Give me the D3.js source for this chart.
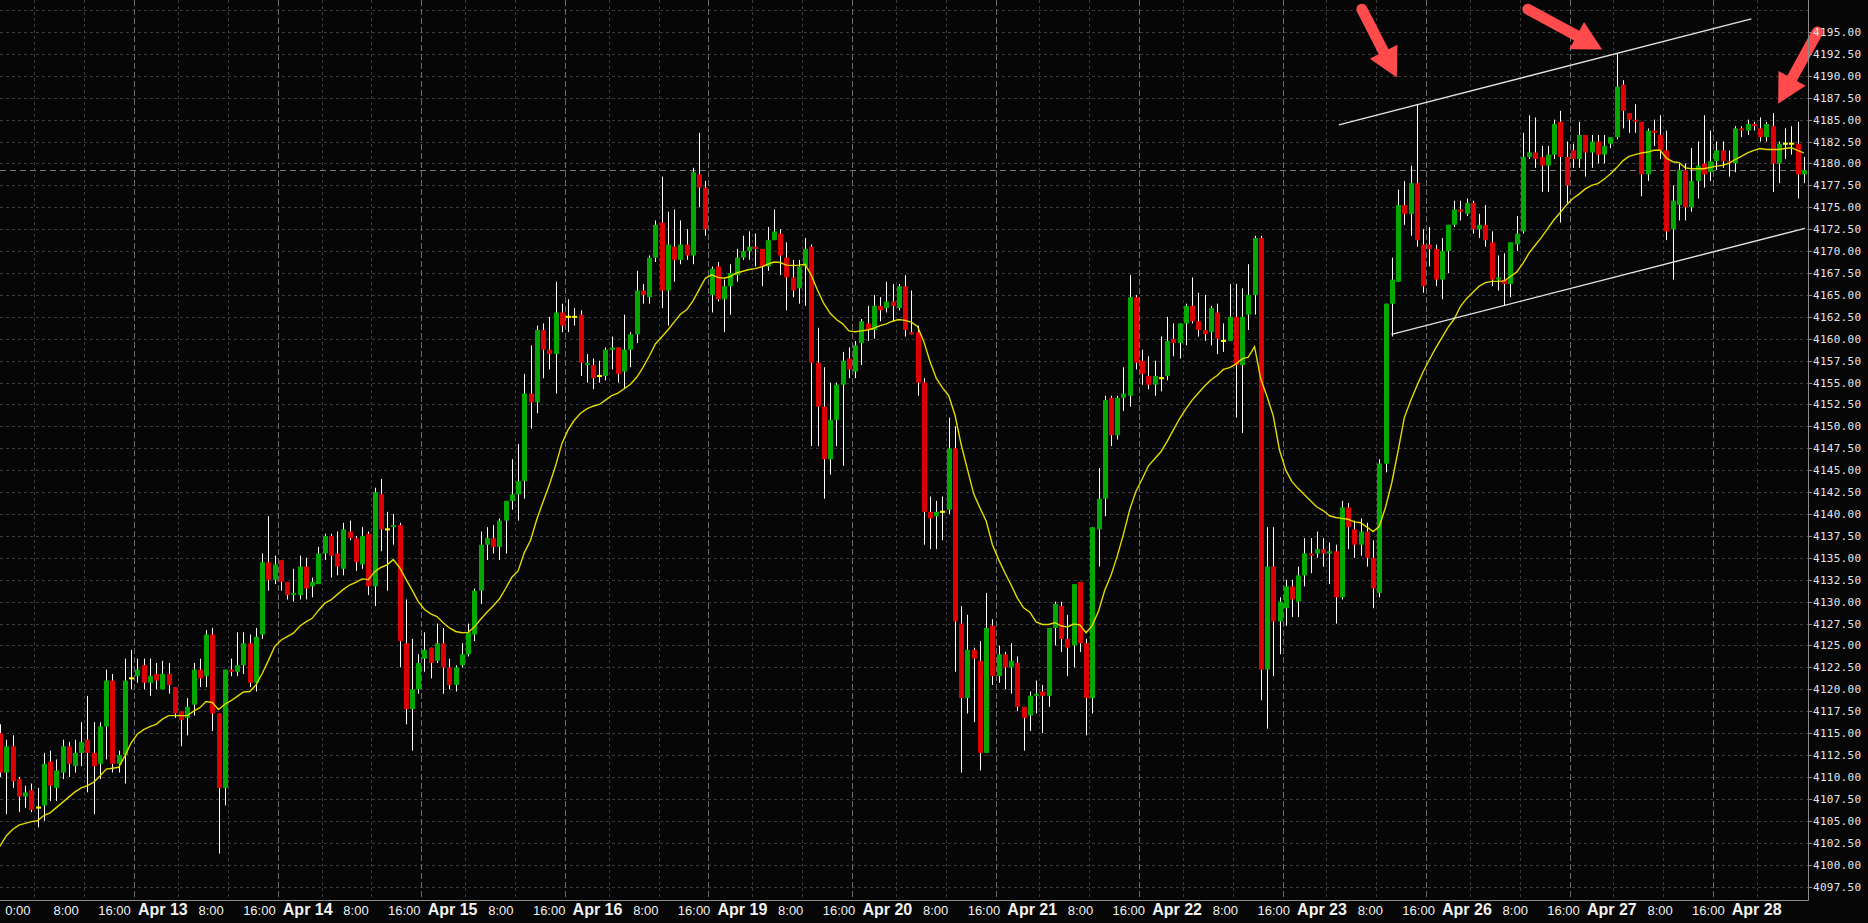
<!DOCTYPE html>
<html><head><meta charset="utf-8">
<script src="https://cdn.jsdelivr.net/npm/d3@7"></script>
<style>html,body{margin:0;padding:0;background:#060606;overflow:hidden}svg{display:block}</style>
</head><body>
<svg id="chart" width="1868" height="923"></svg>
<script>
// ---------- DATA (hourly candles, index 0..289) ----------
const open = [
4115,4110.5,4113.5,4109.75,4107.75,4108.5,4106.5,4106.75,4111.75,4108.75,
4110.5,4113.5,4111.25,4112.75,4114.25,4112.75,4111.5,4115.75,4121,4111.5,
4112.5,4121.25,4121.5,4122.75,4120.75,4121.75,4120,4121.75,4120.25,4117.5,
4116.75,4118.25,4122.25,4121.5,4126.25,4117.25,4108.75,4122.25,4122,4122.75,
4125.25,4120.75,4126.25,4134.5,4132.5,4134.75,4132.25,4130.75,4130.75,4134,
4131.75,4132,4135.5,4137.5,4135.5,4133.75,4138,4137.25,4134.25,4137.75,
4131.75,4142.25,4138.25,4138.5,4138.75,4125.25,4117.75,4120,4123.5,4124.75,
4123.25,4125.25,4122.5,4120.5,4122.75,4124,4126.25,4131.25,4136.5,4137.25,
4136.25,4139.25,4141.5,4142.25,4143.75,4153.75,4152.75,4161,4158.75,4158.25,
4163,4162.5,4162.5,4162.75,4157,4157,4155.75,4155.75,4158.75,4159,
4156.25,4158.75,4160.5,4165.5,4164.75,4169.25,4173.25,4165.5,4170.5,4169,
4170.75,4169.5,4178.75,4177.25,4165,4168.25,4164.5,4166,4167.25,4169.25,
4170,4170.5,4170.25,4168.25,4171.25,4172,4169.25,4167,4165.75,4168.25,
4170.5,4157.25,4152.25,4146.25,4150.75,4154.75,4157.75,4156.25,4159.5,4161.75,
4161,4163.75,4163.5,4164.25,4163.5,4166,4160.75,4160.75,4155,4140.25,
4139.75,4140.25,4140.5,4147.5,4127.5,4119,4124.5,4123.25,4112.75,4127.25,
4121.5,4124,4122.5,4123,4118,4117,4119.25,4119.75,4119.25,4127,
4129.5,4125.75,4125,4132.25,4125.25,4119,4138.25,4141.75,4153.25,4149,
4153.25,4153.5,4164.75,4157.5,4155.75,4154.75,4155.5,4155.75,4160,4159.5,
4161.75,4163.75,4162,4161,4160.75,4163,4159.75,4159.75,4162.5,4157,
4162.75,4165,4171.5,4122.25,4134,4127.75,4129.25,4131.75,4130,4133,
4135.5,4135.5,4136,4135.5,4135.75,4130.5,4140.75,4138.25,4136.5,4138,
4135,4131,4145.75,4164,4166.5,4175.25,4174.25,4177.75,4170.75,4170.75,
4170.25,4166.75,4170,4173,4174.75,4174.25,4175.5,4172.5,4173,4171,
4166.75,4166.75,4166.25,4170.75,4172.25,4180.75,4181.25,4180.75,4179.75,4181,
4184.75,4180.75,4181.5,4180.5,4183.25,4181.25,4182.5,4181,4182.25,4183,
4189,4185.75,4185,4184.75,4178.75,4183.75,4183.25,4181.5,4172.5,4175.25,
4179.25,4175,4178,4180,4179,4180.25,4181.5,4180.25,4180,4184,
4183.75,4184.5,4184,4183,4184.25,4180,4182.25,4182.25,4182.25,4178.75];
const high = [
4116,4114.25,4114.75,4110,4109,4109.25,4108.75,4112.75,4113,4112,
4114.25,4114,4114.25,4116.25,4119.25,4116.25,4116.25,4122.25,4121.75,4113,
4123.5,4124.5,4123.5,4123.5,4123.5,4123,4123.25,4123,4120.25,4117.5,
4119,4123,4123.5,4126.75,4127,4117.25,4122.25,4123.5,4126.5,4126.5,
4126.25,4127,4135.5,4139.75,4135.25,4134.75,4132.25,4133.75,4135.25,4135,
4132.75,4136.25,4137.75,4137.75,4138,4139,4139.25,4137.5,4138.5,4138,
4143,4144,4140.25,4140,4139,4130.25,4125.75,4124,4126.5,4124.75,
4127.5,4127,4123.5,4122.75,4125.25,4127.5,4131.5,4138,4138.5,4138.75,
4139.5,4141.5,4146.25,4148,4156,4159.25,4161.5,4161.75,4162.5,4166.5,
4164,4164.5,4163.5,4163.25,4158.25,4157.75,4157.5,4159,4160.25,4159,
4162.75,4160.75,4167.75,4166.25,4169.5,4173.5,4178.5,4174.5,4174.75,4173.5,
4172.5,4179.5,4183.5,4178,4168.25,4168.75,4166.75,4168.5,4170.25,4171.75,
4172.25,4172,4170.25,4172.75,4174.75,4172.5,4171,4169,4169,4171.5,
4170.75,4161.25,4156.75,4155,4155,4158.5,4159,4159.75,4162.25,4163.75,
4165,4164.75,4166.5,4166.25,4166.25,4167.25,4165.5,4161.5,4155.5,4142,
4141.5,4142,4151,4150,4129.5,4128.5,4124.75,4125.5,4131,4128,
4125,4124.25,4125.25,4123.75,4118,4119.75,4121,4120.5,4127,4130,
4130,4128.5,4132,4132.25,4125.75,4138.5,4145.25,4153.5,4153.5,4153.5,
4156.75,4167.25,4165,4158.75,4158,4157.5,4160.25,4162.5,4161.75,4161.75,
4164,4167,4165.25,4165,4163.75,4164,4161.75,4166.25,4166.25,4165.75,
4168.5,4171.75,4171.75,4138.5,4138.5,4130.5,4132.5,4132.5,4134,4137.25,
4137.25,4138,4137.25,4136.75,4136.5,4141.5,4141.25,4139.25,4139.5,4139,
4137,4146.25,4164,4169.25,4177,4178,4179.75,4186.75,4172.5,4172.75,
4170.75,4171.5,4173,4175.75,4175.75,4176,4175.75,4174.25,4175.25,4172.25,
4169.5,4169.75,4171,4174,4183.5,4185.5,4185.25,4182,4182,4185,
4186,4182.5,4182.25,4184.75,4183.25,4183.25,4183.25,4183.25,4183,4192.5,
4189.5,4185.75,4186.75,4184.75,4184,4185,4185.5,4183.75,4177.5,4180,
4180,4181.75,4182.5,4185.5,4183.75,4182.5,4182.5,4181.5,4184.25,4184.25,
4185,4184.75,4185.25,4184.75,4185.75,4182.5,4184,4184.25,4184.75,4180.75];
const low = [
4110,4105.75,4108.75,4106,4106.5,4106,4104.25,4105,4107.25,4107.25,
4109.75,4110,4110.5,4111.25,4108.25,4105.75,4109.75,4112,4110.5,4110.5,
4109.25,4120,4120.75,4120,4119.25,4120,4120,4119.5,4116.75,4113.5,
4114.75,4117,4120.25,4120.25,4115.25,4101.25,4106.75,4121.5,4121.5,4121.75,
4120.25,4119.75,4125.75,4131.25,4132,4131.25,4130.25,4130,4130.25,4130.25,
4130.5,4132,4134.75,4132.75,4133,4133,4137,4133.5,4133.75,4130.75,
4129.5,4135.75,4131.25,4136.5,4122.5,4116,4113,4119.5,4122,4121.25,
4123,4119.5,4120,4119.75,4122.5,4123.75,4125.5,4129.75,4134.75,4135.5,
4134.75,4135.5,4140.5,4139.25,4141.75,4149.75,4151.5,4155.5,4156.5,4153.75,
4160.75,4160.75,4161.5,4155.75,4155,4154.25,4155,4155.25,4156.5,4155,
4154.25,4156.75,4159.5,4164,4164,4168.75,4163.5,4161.5,4166.5,4168.5,
4169,4168.5,4175,4171.75,4163,4164.25,4160.75,4162.75,4166.5,4169,
4169,4168.25,4166,4167.75,4171.25,4167.25,4163.25,4164.75,4164,4163.75,
4147.75,4147.75,4141.75,4144.5,4147.75,4145.5,4155.5,4155.5,4157,4159.75,
4160,4162,4163,4162,4163.25,4160.25,4160.5,4153.5,4136.5,4136,
4136,4137,4140,4122,4110.5,4117.25,4116.25,4110.75,4112.75,4120.5,
4120.75,4120,4119.5,4117.5,4113,4115.25,4117.25,4115,4118,4125,
4124.25,4121.5,4122.5,4124.25,4114.75,4117.25,4134,4139.75,4147.75,4148.5,
4151.75,4152.25,4156.5,4154.75,4154.25,4153.5,4154,4155.25,4158,4157.75,
4159.25,4161.75,4160.25,4159.75,4159.25,4158.25,4158.5,4159.75,4151,4149.25,
4161,4162.75,4118.75,4115.5,4121.5,4124,4127.25,4128.25,4128.25,4131.75,
4133.25,4135,4134,4132,4127.5,4130.25,4136,4135,4135.25,4134,
4129.25,4130.5,4144.75,4160.25,4166.5,4173,4171.75,4170.5,4165.25,4168.25,
4166,4164.5,4167.5,4172.75,4173.5,4174,4172,4171.5,4170.5,4166,
4165.5,4163.75,4164.75,4170,4172,4180.5,4179.5,4176.75,4176.75,4180.5,
4173.25,4175.5,4179.5,4179.5,4178.5,4179.5,4180,4180,4181.75,4182.75,
4184,4183.5,4183.5,4176.25,4178,4182,4180.5,4171.25,4166.75,4173.5,
4173.5,4174.5,4176,4177.25,4178,4179.25,4179.5,4178.5,4179,4183,
4183.25,4183.75,4182.5,4182.5,4176.75,4177.75,4180.5,4181,4176,4177.75];
const close = [
4110.5,4113.5,4109.5,4107.75,4108.25,4106.25,4106.5,4111.5,4109,4110.75,
4113.5,4111.5,4112.75,4114,4112.75,4111.25,4115.75,4121,4111.5,4112.5,
4121,4121.25,4122.25,4120.75,4121.5,4121,4121.75,4120.5,4117.25,4116.5,
4118,4122.25,4121.25,4126.25,4117.25,4108.75,4122.25,4122,4122.75,4125.25,
4120.75,4126,4134.5,4132.5,4134.25,4132.25,4130.75,4131,4134,4131.5,
4132.25,4135.5,4137.5,4135.25,4134,4138.25,4137.25,4134.5,4137.5,4131.75,
4142.5,4138.25,4138.25,4138.75,4125.5,4117.75,4120,4123,4124.5,4123,
4125.25,4122.5,4120.5,4122.5,4124,4126.5,4131.25,4136.5,4137.25,4136.25,
4139.25,4141.5,4142.25,4143.75,4153.75,4152.75,4161,4158.75,4158.25,4163,
4161.5,4162.5,4162.5,4157.25,4157.25,4155.5,4155.75,4158.75,4159,4156,
4158.75,4160.5,4165.5,4165,4169.25,4173,4165.5,4170.75,4169,4170.75,
4169.5,4179,4177.25,4172.5,4168,4164.5,4166,4167.5,4169.25,4170,
4170.5,4170.25,4168.25,4171.25,4172.25,4169.5,4167,4165.5,4168.25,4170.25,
4157.25,4152.25,4146.25,4150.75,4154.75,4157.5,4156.5,4159.25,4162,4161,
4163.75,4163.25,4164.25,4163.75,4166,4161,4160.5,4155,4140.25,4139.5,
4140.25,4140.25,4147.5,4127.75,4119,4124.5,4123.5,4112.75,4127,4121.5,
4124,4122.5,4123.25,4118,4116.75,4119.25,4119.5,4119.25,4127,4129.75,
4125.75,4124.75,4132,4125.25,4119,4138.5,4141.75,4153,4149,4153.25,
4153.75,4164.75,4157.25,4156,4154.75,4155.75,4155.5,4159.75,4159.5,4161.75,
4163.75,4162,4161,4160.5,4163.5,4160,4159.75,4162.5,4157,4162.5,
4165,4171.5,4122.25,4134,4127.75,4130,4131.75,4130.25,4133,4135.5,
4135.25,4136,4135.5,4135.75,4130.5,4140.75,4138.5,4136.5,4138,4135,
4131.5,4145.75,4164,4166.75,4175.25,4174.25,4177.75,4171.25,4166,4170.25,
4166.75,4170,4173,4174.75,4174.5,4175.5,4172.5,4173,4171.25,4166.75,
4167,4166.25,4171,4172,4180.75,4181.25,4180.5,4179.75,4181,4184.5,
4180.75,4177.5,4180.5,4183.25,4181.25,4182.5,4181,4182,4183,4188.75,
4186,4185,4184.75,4178.75,4183.75,4183.5,4181.5,4172.25,4175.75,4179.25,
4175,4178,4179.75,4178.75,4180.25,4181.5,4180.25,4180,4184,4183.75,
4184.5,4184.25,4183,4184.5,4180,4182.25,4182.25,4182.25,4178.75,4179.25];
// yellow moving average
const ma = [
4102.1,4103.3,4104.0,4104.5,4104.7,4104.9,4105.0,4105.6,4105.9,4106.5,
4107.1,4107.7,4108.3,4108.75,4109.0,4109.4,4110.1,4110.9,4111.0,4111.1,
4112.4,4113.9,4114.9,4115.4,4115.75,4116.0,4116.6,4117.0,4117.0,4117.0,
4117.0,4117.5,4117.9,4118.6,4118.5,4117.7,4118.3,4118.7,4119.2,4119.7,
4119.75,4120.5,4121.8,4123.3,4124.9,4125.6,4126.0,4126.4,4127.2,4127.7,
4128.1,4129.0,4129.8,4130.2,4130.8,4131.4,4131.9,4132.2,4132.6,4132.5,
4133.4,4133.9,4134.2,4134.8,4133.9,4132.6,4131.35,4130.0,4129.1,4128.6,
4128.3,4127.6,4127.0,4126.6,4126.45,4126.5,4127.1,4128.0,4128.8,4129.5,
4130.3,4131.5,4132.8,4133.5,4135.6,4137.0,4139.4,4141.4,4143.3,4145.5,
4148.0,4149.6,4150.7,4151.5,4152.0,4152.3,4152.5,4153.0,4153.5,4153.8,
4154.3,4154.8,4155.6,4156.7,4158.0,4159.4,4160.2,4161.0,4161.9,4162.8,
4163.3,4164.3,4165.6,4166.9,4167.3,4167.0,4166.9,4167.1,4167.5,4167.7,
4167.9,4168.0,4168.2,4168.5,4168.75,4168.7,4168.4,4168.35,4168.4,4168.5,
4167.2,4165.5,4164.0,4162.9,4162.2,4161.7,4160.9,4160.8,4160.9,4161.0,
4161.2,4161.5,4161.7,4162.0,4162.2,4162.1,4161.9,4161.4,4159.7,4157.4,
4155.5,4154.4,4153.5,4151.3,4147.9,4145.1,4142.3,4140.7,4139.2,4136.5,
4134.8,4133.3,4131.9,4130.4,4129.3,4128.8,4127.7,4127.4,4127.4,4127.6,
4127.25,4127.1,4127.45,4127.35,4126.45,4127.3,4128.9,4131.3,4133.0,4135.2,
4137.7,4140.5,4142.6,4144.0,4145.5,4146.3,4147.1,4148.3,4149.6,4150.9,
4152.0,4153.0,4153.8,4154.6,4155.3,4155.8,4156.5,4156.7,4157.1,4157.7,
4157.9,4159.1,4155.4,4153.4,4151.2,4147.3,4145.0,4143.7,4142.9,4142.2,
4141.5,4140.8,4140.4,4139.8,4139.6,4139.5,4139.4,4139.1,4139.0,4138.5,
4138.0,4138.6,4140.8,4143.6,4147.2,4151.0,4152.9,4154.6,4156.2,4157.6,
4158.9,4160.1,4161.3,4162.25,4163.7,4164.6,4165.3,4166.0,4166.4,4166.55,
4166.55,4166.6,4167.1,4167.6,4168.6,4169.8,4170.7,4171.6,4172.6,4173.6,
4174.4,4175.3,4176.0,4176.5,4177.1,4177.5,4177.7,4178.2,4178.8,4179.5,
4180.3,4180.8,4181.0,4181.2,4181.3,4181.5,4181.5,4180.6,4180.2,4180.1,
4179.5,4179.4,4179.4,4179.4,4179.55,4179.7,4179.8,4180.0,4180.45,4180.8,
4181.2,4181.5,4181.7,4181.6,4181.6,4181.6,4181.7,4181.8,4181.5,4181.2];

const priceTicks = [4195.00,4192.50,4190.00,4187.50,4185.00,4182.50,4180.00,4177.50,4175.00,4172.50,
  4170.00,4167.50,4165.00,4162.50,4160.00,4157.50,4155.00,4152.50,4150.00,4147.50,4145.00,4142.50,
  4140.00,4137.50,4135.00,4132.50,4130.00,4127.50,4125.00,4122.50,4120.00,4117.50,4115.00,4112.50,
  4110.00,4107.50,4105.00,4102.50,4100.00,4097.50];
const extraGridPrices = [4197.50];
const xTickLabels = ["0:00","8:00","16:00","Apr 13","8:00","16:00","Apr 14","8:00","16:00","Apr 15",
  "8:00","16:00","Apr 16","8:00","16:00","Apr 19","8:00","16:00","Apr 20","8:00","16:00","Apr 21",
  "8:00","16:00","Apr 22","8:00","16:00","Apr 23","8:00","16:00","Apr 26","8:00","16:00","Apr 27",
  "8:00","16:00","Apr 28"];
const xTickPos = [2.85,10.59,18.33,26.07,33.81,41.55,49.29,57.03,64.76,72.50,80.24,87.98,95.72,
  103.46,111.20,118.94,126.68,134.42,142.16,149.90,157.64,165.38,173.11,180.85,188.59,196.33,
  204.07,211.81,219.55,227.29,235.03,242.77,250.51,258.25,265.99,273.72,281.46];
// day separators (index between candles) and intraday grid offsets
const daySeparators = [-1.5,21.5,44.5,67.5,90.5,113.5,136.5,159.5,182.5,205.5,228.5,251.5,274.5];
const intradayGridOffsets = [7,15];
// channel lines [index, price]
const upperChannel = [[214.5,4184.4],[280.6,4196.5]];
const lowerChannel = [[222.95,4160.5],[289.2,4172.6]];
// red arrows: [tailIndex, tailPrice, tipIndex, tipPrice]
const arrows = [[218.2,4197.6,223.8,4189.8],[244.8,4197.6,256.7,4193.0],[291.2,4195.0,284.9,4186.8]];

// ---------- DRAW ----------
const W = 1868, H = 923, PR = 1808, PB = 900;
const svg = d3.select('#chart');
svg.append('rect').attr('width', W).attr('height', H).attr('fill', '#060606');

const x = d3.scaleLinear().domain([0, 289]).range([0.1, 0.1 + 6.241 * 289]);
const y = d3.scaleLinear().domain([4195, 4097.5]).range([32, 886.5]);
const px = v => Math.round(v) + 0.5;

svg.append('defs').append('clipPath').attr('id', 'pc')
  .append('rect').attr('x', 0).attr('y', 0).attr('width', PR).attr('height', PB);
const plot = svg.append('g').attr('clip-path', 'url(#pc)');

// horizontal grid
const gridPrices = priceTicks.concat(extraGridPrices);
plot.append('g').selectAll('line').data(gridPrices).join('line')
  .attr('x1', 0).attr('x2', PR).attr('y1', d => px(y(d))).attr('y2', d => px(y(d)))
  .attr('stroke', '#3a3a3a').attr('stroke-width', 1).attr('stroke-dasharray', '3,3');

// vertical grid
const vGrid = [];
daySeparators.forEach(s => {
  if (s >= 0) vGrid.push({i: s, sep: true});
  intradayGridOffsets.forEach(o => { if (s + o <= 289.2) vGrid.push({i: s + o, sep: false}); });
});
plot.append('g').selectAll('line').data(vGrid).join('line')
  .attr('x1', d => px(x(d.i))).attr('x2', d => px(x(d.i))).attr('y1', 0).attr('y2', PB)
  .attr('stroke', d => d.sep ? '#6a6a6a' : '#3a3a3a').attr('stroke-width', 1)
  .attr('stroke-dasharray', d => d.sep ? '6,3' : '3,3');

// current price line
const last = close[close.length - 1];
plot.append('line').attr('x1', 0).attr('x2', PR).attr('y1', px(y(last))).attr('y2', px(y(last)))
  .attr('stroke', '#777').attr('stroke-width', 1).attr('stroke-dasharray', '6,4');

// candles
const idx = d3.range(open.length);
const cg = plot.append('g');
cg.selectAll('line.w').data(idx).join('line').attr('class', 'w')
  .attr('x1', i => Math.round(x(i)) + 0.5).attr('x2', i => Math.round(x(i)) + 0.5)
  .attr('y1', i => y(high[i])).attr('y2', i => y(low[i]))
  .attr('stroke', '#ffffff').attr('stroke-width', 1);
cg.selectAll('rect.b').data(idx).join('rect').attr('class', 'b')
  .attr('x', i => Math.round(x(i)) - 2)
  .attr('width', 5)
  .attr('y', i => open[i] === close[i] ? y(open[i]) - 1 : Math.min(y(open[i]), y(close[i])))
  .attr('height', i => open[i] === close[i] ? 2 : Math.max(1, Math.abs(y(open[i]) - y(close[i]))))
  .attr('fill', i => open[i] === close[i] ? '#ffff00' : (close[i] > open[i] ? '#00a800' : '#dc0000'));

// moving average
plot.append('path').datum(ma)
  .attr('d', d3.line().x((d, i) => x(i)).y(d => y(d)))
  .attr('fill', 'none').attr('stroke', '#e2da00').attr('stroke-width', 1.4);

// channel lines
[upperChannel, lowerChannel].forEach(seg => {
  plot.append('line')
    .attr('x1', x(seg[0][0])).attr('y1', y(seg[0][1]))
    .attr('x2', x(seg[1][0])).attr('y2', y(seg[1][1]))
    .attr('stroke', '#e2e2e2').attr('stroke-width', 1.4);
});

// arrows
const ag = svg.append('g');
arrows.forEach(a => {
  const tx = x(a[0]), ty = y(a[1]), hx = x(a[2]), hy = y(a[3]);
  const dx = hx - tx, dy = hy - ty, L = Math.hypot(dx, dy);
  const ux = dx / L, uy = dy / L, nx = -uy, ny = ux;
  const headLen = 29, headW = 31, shaft = 11;
  const bx = hx - ux * headLen, by = hy - uy * headLen;
  ag.append('line').attr('x1', tx).attr('y1', ty).attr('x2', bx + ux * 2).attr('y2', by + uy * 2)
    .attr('stroke', '#ff4b4b').attr('stroke-width', shaft).attr('stroke-linecap', 'round');
  ag.append('path')
    .attr('d', `M${bx + nx * headW / 2},${by + ny * headW / 2}L${hx},${hy}L${bx - nx * headW / 2},${by - ny * headW / 2}Z`)
    .attr('fill', '#ff4b4b');
});

// axes borders
svg.append('line').attr('x1', PR + 0.5).attr('x2', PR + 0.5).attr('y1', 0).attr('y2', PB + 0.5)
  .attr('stroke', '#8a8a8a');
svg.append('line').attr('x1', 0).attr('x2', PR + 0.5).attr('y1', PB + 0.5).attr('y2', PB + 0.5)
  .attr('stroke', '#8a8a8a');

// y axis labels (drawn above the arrows)
const ya = svg.append('g');
ya.selectAll('line').data(priceTicks).join('line')
  .attr('x1', PR + 1).attr('x2', PR + 4).attr('y1', d => px(y(d))).attr('y2', d => px(y(d)))
  .attr('stroke', '#8a8a8a');
ya.selectAll('text').data(priceTicks).join('text')
  .attr('x', PR + 5).attr('y', d => y(d) + 4)
  .attr('fill', '#e6e6e6').attr('font-family', 'DejaVu Sans Mono, monospace')
  .attr('font-size', 11)
  .attr('textLength', 48).attr('lengthAdjust', 'spacing')
  .text(d => d.toFixed(2));

// x axis labels
const xa = svg.append('g');
xa.selectAll('text').data(xTickLabels).join('text')
  .attr('x', (d, k) => x(xTickPos[k])).attr('y', 915)
  .attr('text-anchor', 'middle')
  .attr('fill', '#f2f2f2')
  .attr('font-family', 'Liberation Sans Narrow, Arial Narrow, sans-serif')
  .attr('font-weight', d => d.startsWith('Apr') ? 'bold' : 'normal')
  .attr('font-size', d => d.startsWith('Apr') ? 16 : 13)
  .text(d => d);
</script>
</body></html>
